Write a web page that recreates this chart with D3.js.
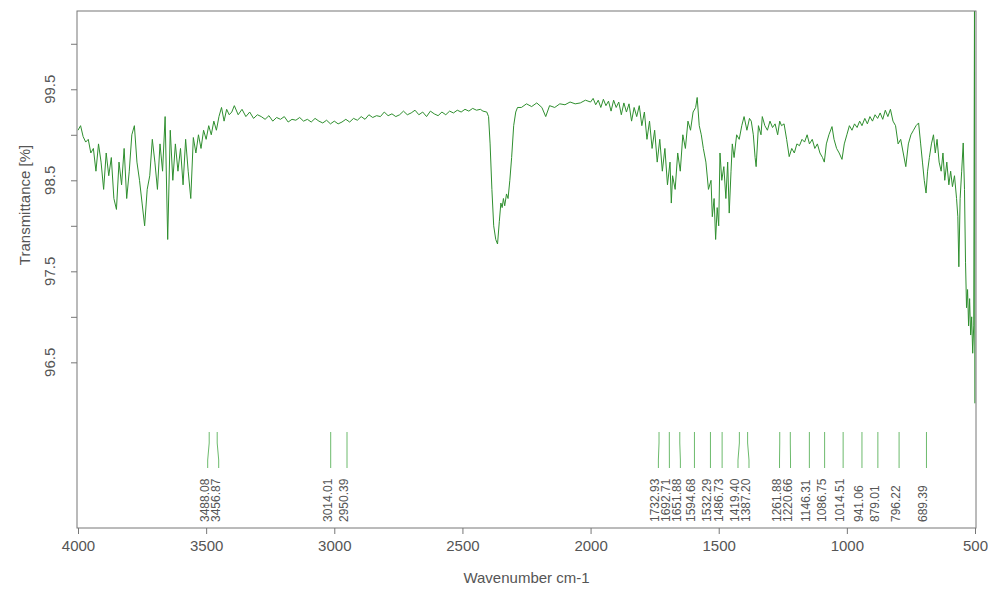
<!DOCTYPE html>
<html>
<head>
<meta charset="utf-8">
<script src="https://cdn.jsdelivr.net/npm/d3@7"></script>
<style>
  body { margin: 0; background: #fff; }
  svg { display: block; font-family: "Liberation Sans", Arial, sans-serif; }
</style>
</head>
<body>
<svg class="chart"></svg>
<script>
const width = 988, height = 591;
const box = {left: 77, top: 11, right: 976, bottom: 528};

// [wavenumber, transmittance %]
const spectrum = [
  [4000, 99.05], [3990, 99.1], [3980, 98.98], [3970, 98.92], [3960, 98.95], [3950, 98.8],
  [3940, 98.85], [3930, 98.6], [3920, 98.9], [3910, 98.7], [3900, 98.4], [3890, 98.8],
  [3880, 98.55], [3870, 98.75], [3860, 98.3], [3850, 98.18], [3840, 98.7], [3830, 98.45],
  [3820, 98.85], [3810, 98.3], [3800, 98.6], [3790, 99.0], [3780, 99.1], [3770, 98.7],
  [3760, 98.5], [3750, 98.25], [3740, 98.0], [3730, 98.4], [3720, 98.55], [3710, 98.95],
  [3700, 98.7], [3690, 98.4], [3680, 98.9], [3670, 98.6], [3660, 99.2], [3650, 97.85],
  [3640, 99.05], [3630, 98.5], [3620, 98.9], [3610, 98.6], [3600, 98.85], [3590, 98.45],
  [3580, 98.95], [3570, 98.6], [3560, 98.3], [3550, 98.97], [3540, 98.8], [3530, 99.0],
  [3520, 98.85], [3510, 99.05], [3500, 98.95], [3490, 99.1], [3480, 99.0], [3470, 99.15],
  [3460, 99.05], [3450, 99.2], [3440, 99.3], [3430, 99.15], [3420, 99.28], [3410, 99.22],
  [3400, 99.25], [3390, 99.32], [3375, 99.22], [3360, 99.28], [3345, 99.2], [3330, 99.25],
  [3315, 99.18], [3300, 99.22], [3285, 99.2], [3270, 99.17], [3255, 99.21], [3240, 99.15],
  [3225, 99.19], [3210, 99.17], [3195, 99.2], [3180, 99.14], [3165, 99.17], [3150, 99.16],
  [3135, 99.19], [3120, 99.15], [3105, 99.17], [3090, 99.14], [3075, 99.18], [3060, 99.15],
  [3045, 99.13], [3030, 99.16], [3015, 99.12], [3000, 99.15], [2985, 99.12], [2970, 99.14],
  [2955, 99.17], [2940, 99.14], [2925, 99.18], [2910, 99.16], [2895, 99.2], [2880, 99.17],
  [2865, 99.22], [2850, 99.19], [2835, 99.21], [2820, 99.2], [2805, 99.25], [2790, 99.21],
  [2775, 99.23], [2760, 99.2], [2745, 99.22], [2730, 99.26], [2715, 99.22], [2700, 99.24],
  [2685, 99.27], [2670, 99.22], [2655, 99.25], [2640, 99.2], [2625, 99.26], [2610, 99.23],
  [2595, 99.21], [2580, 99.25], [2565, 99.22], [2550, 99.26], [2535, 99.24], [2520, 99.27],
  [2505, 99.25], [2490, 99.28], [2475, 99.26], [2460, 99.29], [2445, 99.27], [2430, 99.28],
  [2420, 99.26], [2405, 99.25], [2398, 99.2], [2392, 98.9], [2385, 98.4], [2378, 98.0],
  [2370, 97.85], [2363, 97.8], [2356, 98.05], [2350, 98.25], [2345, 98.2], [2340, 98.3],
  [2335, 98.22], [2328, 98.35], [2322, 98.3], [2315, 98.5], [2308, 98.75], [2300, 99.1],
  [2292, 99.25], [2285, 99.3], [2270, 99.3], [2250, 99.34], [2230, 99.31], [2210, 99.35],
  [2190, 99.3], [2175, 99.2], [2160, 99.32], [2140, 99.3], [2120, 99.34], [2100, 99.33],
  [2080, 99.36], [2060, 99.34], [2040, 99.35], [2020, 99.38], [2000, 99.36], [1990, 99.4],
  [1980, 99.33], [1970, 99.38], [1960, 99.3], [1950, 99.39], [1940, 99.32], [1930, 99.37],
  [1920, 99.26], [1910, 99.38], [1900, 99.3], [1890, 99.36], [1880, 99.22], [1870, 99.35],
  [1860, 99.25], [1850, 99.34], [1840, 99.15], [1830, 99.3], [1820, 99.2], [1810, 99.32],
  [1800, 99.1], [1790, 99.25], [1780, 98.95], [1770, 99.15], [1760, 98.85], [1750, 99.05],
  [1740, 98.7], [1730, 98.95], [1720, 98.6], [1710, 98.85], [1700, 98.45], [1690, 98.7],
  [1685, 98.25], [1680, 98.55], [1670, 98.4], [1660, 98.8], [1650, 98.6], [1640, 99.0],
  [1630, 98.85], [1620, 99.15], [1610, 99.05], [1600, 99.25], [1590, 99.3], [1584, 99.41],
  [1576, 99.1], [1568, 99.0], [1560, 98.85], [1550, 98.7], [1540, 98.4], [1530, 98.5],
  [1525, 98.1], [1518, 98.3], [1512, 97.85], [1506, 98.2], [1500, 98.0], [1495, 98.8],
  [1488, 98.5], [1480, 98.65], [1472, 98.3], [1465, 98.7], [1459, 98.14], [1452, 98.6],
  [1447, 98.9], [1440, 98.75], [1430, 99.0], [1420, 98.95], [1410, 99.1], [1401, 99.2],
  [1390, 99.05], [1380, 99.18], [1373, 99.15], [1365, 99.0], [1358, 98.75], [1354, 98.65],
  [1345, 99.1], [1335, 99.0], [1330, 99.2], [1320, 99.1], [1310, 99.05], [1300, 99.15],
  [1290, 99.08], [1280, 99.12], [1270, 99.0], [1262, 99.15], [1255, 99.1], [1245, 99.12],
  [1235, 98.95], [1225, 98.76], [1215, 98.85], [1205, 98.8], [1195, 98.9], [1185, 98.88],
  [1175, 98.95], [1165, 98.92], [1155, 99.0], [1146, 98.9], [1135, 98.95], [1125, 98.85],
  [1115, 98.9], [1105, 98.8], [1095, 98.75], [1088, 98.7], [1080, 98.9], [1070, 99.0],
  [1058, 99.09], [1050, 98.95], [1040, 98.85], [1030, 98.8], [1019, 98.73], [1010, 98.9],
  [1000, 99.0], [990, 99.1], [980, 99.05], [970, 99.12], [960, 99.08], [950, 99.15],
  [941, 99.1], [930, 99.18], [920, 99.12], [910, 99.2], [900, 99.15], [890, 99.22],
  [880, 99.18], [870, 99.24], [860, 99.17], [850, 99.27], [840, 99.2], [830, 99.28],
  [820, 99.15], [810, 99.1], [800, 98.9], [790, 98.95], [780, 98.8], [770, 98.65],
  [760, 98.9], [750, 99.0], [740, 99.05], [730, 99.1], [720, 99.13], [712, 98.9],
  [705, 98.7], [698, 98.5], [691, 98.36], [685, 98.6], [678, 98.75], [670, 98.9],
  [662, 99.0], [655, 98.8], [648, 98.95], [640, 98.7], [632, 98.6], [625, 98.8],
  [618, 98.5], [610, 98.7], [602, 98.45], [595, 98.6], [588, 98.43], [580, 98.55],
  [572, 98.3], [567, 98.1], [563, 97.55], [558, 98.3], [552, 98.6], [546, 98.91],
  [541, 98.4], [537, 97.6], [533, 97.1], [529, 97.3], [525, 96.9], [521, 97.2],
  [517, 96.8], [513, 97.0], [509, 96.6], [505, 96.9], [502, 100.4], [500.5, 96.05]
];

const peaks = [3488.08, 3456.87, 3014.01, 2950.39, 1732.93, 1692.71, 1651.88, 1594.68,
  1532.29, 1486.73, 1419.40, 1387.20, 1261.88, 1220.66, 1146.31, 1086.75, 1014.51,
  941.06, 879.01, 796.22, 689.39];

const xTicks = [4000, 3500, 3000, 2500, 2000, 1500, 1000, 500];
const yTicks = [96.5, 97, 97.5, 98, 98.5, 99, 99.5, 100];
const yTickLabels = [96.5, 97.5, 98.5, 99.5];

const x = d3.scaleLinear().domain([4000, 500]).range([78, 975]);
const y = d3.scaleLinear().domain([94.68, 100.36]).range([box.bottom, box.top]);

const svg = d3.select(".chart")
  .attr("width", width)
  .attr("height", height);

svg.append("clipPath").attr("id", "plotclip")
  .append("rect")
  .attr("x", box.left).attr("y", box.top)
  .attr("width", box.right - box.left).attr("height", box.bottom - box.top);

// spectrum
svg.append("path")
  .datum(spectrum)
  .attr("clip-path", "url(#plotclip)")
  .attr("fill", "none")
  .attr("stroke", "#2f8f2f")
  .attr("stroke-width", 1)
  .attr("d", d3.line().x(d => x(d[0])).y(d => y(d[1])));

// spread labels so they don't overlap
const spread = (xs, gap) => {
  const p = xs.slice();
  for (let it = 0; it < 300; it++) {
    let moved = false;
    for (let i = 1; i < p.length; i++) {
      const d = p[i] - p[i - 1];
      if (d < gap - 0.01) {
        const s = (gap - d) / 2;
        p[i - 1] -= s;
        p[i] += s;
        moved = true;
      }
    }
    if (!moved) break;
  }
  return p;
};

const peakX = peaks.map(p => x(p));
const labelX = spread(peakX, 11);
const y0 = 432, y1 = 443, y2 = 460, y3 = 468;

const pk = svg.append("g").selectAll("g")
  .data(peaks)
  .enter().append("g");

pk.append("path")
  .attr("fill", "none")
  .attr("stroke", "#6cba6c")
  .attr("stroke-width", 1)
  .attr("d", (d, i) => `M${peakX[i]},${y0}L${peakX[i]},${y1}L${labelX[i]},${y2}L${labelX[i]},${y3}`);

pk.append("text")
  .attr("transform", (d, i) => `translate(${labelX[i] + 1},522) rotate(-90)`)
  .attr("font-size", 12)
  .attr("fill", "#555")
  .text(d => d.toFixed(2));

// frame
svg.append("rect")
  .attr("x", box.left).attr("y", box.top)
  .attr("width", box.right - box.left).attr("height", box.bottom - box.top)
  .attr("fill", "none")
  .attr("stroke", "#777")
  .attr("stroke-width", 1);

// x axis
const xAxis = svg.append("g")
  .attr("transform", `translate(0,${box.bottom})`)
  .call(d3.axisBottom(x).tickValues(xTicks).tickSize(6).tickPadding(6).tickFormat(d3.format("d")));
xAxis.select(".domain").remove();
xAxis.selectAll("line").attr("stroke", "#777");
xAxis.selectAll("text").attr("fill", "#555").attr("font-size", 15)
  .attr("font-family", "Liberation Sans, Arial, sans-serif");

// y axis
const yAxis = svg.append("g")
  .attr("transform", `translate(${box.left},0)`)
  .call(d3.axisLeft(y).tickValues(yTicks).tickSize(6).tickFormat(""));
yAxis.select(".domain").remove();
yAxis.selectAll("line").attr("stroke", "#777");

svg.append("g").selectAll("text")
  .data(yTickLabels)
  .enter().append("text")
  .attr("transform", d => `translate(55,${y(d)}) rotate(-90)`)
  .attr("text-anchor", "middle")
  .attr("font-size", 15)
  .attr("fill", "#555")
  .text(d => d.toFixed(1));

svg.append("text")
  .attr("x", (box.left + box.right) / 2)
  .attr("y", 583)
  .attr("text-anchor", "middle")
  .attr("font-size", 15)
  .attr("fill", "#555")
  .text("Wavenumber cm-1");

svg.append("text")
  .attr("transform", "translate(30,205) rotate(-90)")
  .attr("text-anchor", "middle")
  .attr("font-size", 15)
  .attr("fill", "#555")
  .text("Transmittance [%]");
</script>
</body>
</html>
